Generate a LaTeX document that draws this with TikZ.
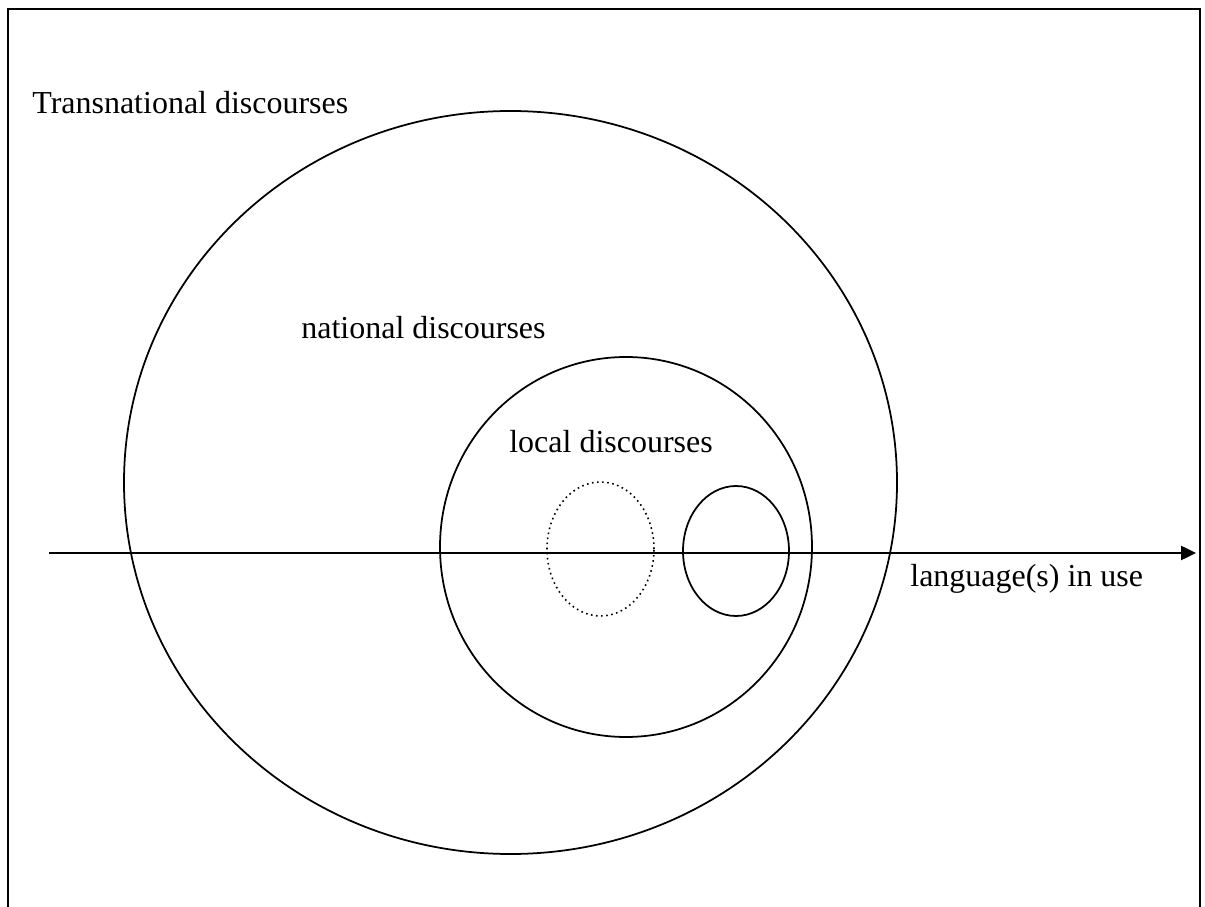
\documentclass[tikz,border=0pt]{standalone}
\usepackage{fontspec}
\setmainfont{Liberation Serif}
\usepackage{tikz}
\usetikzlibrary{arrows.meta}

\begin{document}
\begin{tikzpicture}[font=\fontsize{18.2}{21.8}\selectfont]
	\useasboundingbox (0, 0) rectangle (24.1, 18.12);
	\draw [line width=1.3pt] (0.16, -0.2) -- (0.16, 17.94) -- (24.0, 17.94) -- (24.0, -0.2);
	\draw [line width=1pt] (10.21, 8.47) ellipse [x radius=7.73, y radius=7.43];
	\draw [line width=1pt] (12.52, 7.18) ellipse [x radius=3.72, y radius=3.80];
	\draw [line width=0.9pt, dotted] (12.01, 7.14) ellipse [x radius=1.07, y radius=1.34];
	\draw [line width=1pt] (14.72, 7.10) ellipse [x radius=1.06, y radius=1.30];
	\coordinate (axisstart) at (0.98, 7.06);
	\coordinate (axisend) at (23.92, 7.06);
	\draw [-{Triangle[length=0.3cm, width=0.28cm]}, line width=1.4pt] (axisstart) -- (axisend);
	\node (transnational) at (0.64, 15.84) [anchor=base west, inner sep=0pt] {Transnational discourses};
	\node (national) at (6.02, 11.34) [anchor=base west, inner sep=0pt] {national discourses};
	\node (local) at (10.18, 9.06) [anchor=base west, inner sep=0pt] {local discourses};
	\node (language) at (18.2, 6.38) [anchor=base west, inner sep=0pt] {language(s) in use};
\end{tikzpicture}
\end{document}
